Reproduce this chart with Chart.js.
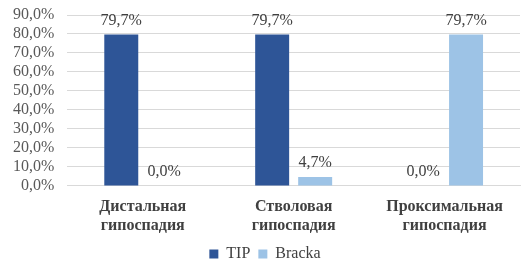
<!DOCTYPE html>
<html>
<head>
<meta charset="utf-8">
<script src="https://cdn.jsdelivr.net/npm/chart.js@4"></script>
<style>
  html, body { margin: 0; padding: 0; background: #fff; }
  #wrap { width: 532px; height: 262px; }
</style>
</head>
<body>
<div id="wrap"><canvas id="hypoChart"></canvas></div>
<script>
  // Categories (two-line labels)
  const categories = [
    ['Дистальная', 'гипоспадия'],
    ['Стволовая', 'гипоспадия'],
    ['Проксимальная', 'гипоспадия']
  ];
  // Series values, %
  const tipValues = [79.7, 79.7, 0.0];
  const brackaValues = [0.0, 4.7, 79.7];
  const yTicks = [0, 10, 20, 30, 40, 50, 60, 70, 80, 90];

  const fmt = v => v.toFixed(1).replace('.', ',') + '%';
  const serif = '"Liberation Serif", "Times New Roman", serif';
  Chart.defaults.font.family = serif;

  // draw value labels above bars
  const valueLabels = {
    id: 'valueLabels',
    afterDatasetsDraw(chart) {
      const ctx = chart.ctx;
      ctx.save();
      ctx.font = '16px ' + serif;
      ctx.fillStyle = '#404040';
      ctx.textAlign = 'center';
      ctx.textBaseline = 'middle';
      chart.data.datasets.forEach((ds, i) => {
        chart.getDatasetMeta(i).data.forEach((bar, j) => {
          ctx.fillText(fmt(ds.data[j]), bar.x, bar.y - 14);
        });
      });
      ctx.restore();
    }
  };

  const ctx = document.getElementById('hypoChart').getContext('2d');
  const hypoChart = new Chart(ctx, {
    type: 'bar',
    data: {
      labels: categories,
      datasets: [
        {
          label: 'TIP',
          data: tipValues,
          backgroundColor: '#2E5597',
          categoryPercentage: 0.57,
          barPercentage: 0.79
        },
        {
          label: 'Bracka',
          data: brackaValues,
          backgroundColor: '#9DC3E6',
          categoryPercentage: 0.57,
          barPercentage: 0.79
        }
      ]
    },
    options: {
      responsive: true,
      maintainAspectRatio: false,
      animation: false,
      layout: { padding: { left: 10, right: 12, top: 15, bottom: -10 } },
      scales: {
        x: {
          grid: { display: false },
          border: { color: '#d9d9d9' },
          ticks: {
            color: '#404040',
            padding: 3,
            font: { family: serif, size: 16, weight: 'bold', lineHeight: 1.19 }
          }
        },
        y: {
          min: 0,
          max: 90,
          afterBuildTicks: axis => { axis.ticks = yTicks.map(v => ({ value: v })); },
          grid: { color: '#d9d9d9', drawTicks: true, tickLength: 10, tickColor: 'rgba(0,0,0,0)' },
          border: { display: false },
          ticks: {
            autoSkip: false,
            color: '#595959',
            padding: 3,
            font: { family: serif, size: 16 },
            callback: v => fmt(v)
          }
        }
      },
      plugins: {
        legend: {
          position: 'bottom',
          labels: {
            boxWidth: 9,
            boxHeight: 9,
            color: '#404040',
            padding: 8,
            font: { family: serif, size: 16 }
          }
        },
        tooltip: { enabled: false }
      }
    },
    plugins: [valueLabels]
  });
</script>
</body>
</html>
